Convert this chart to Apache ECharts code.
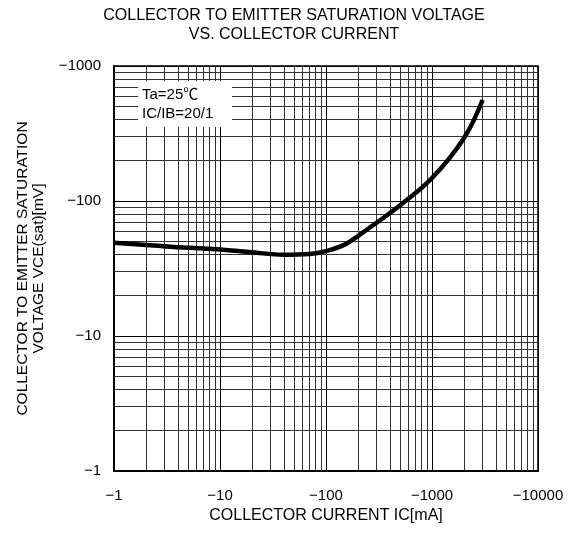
<!DOCTYPE html>
<html>
<head>
<meta charset="utf-8">
<script src="https://cdn.jsdelivr.net/npm/echarts@6/dist/echarts.min.js"></script>
<style>
  html, body { margin: 0; padding: 0; background: #fff; }
  #chart { width: 576px; height: 535px; }
</style>
</head>
<body>
<div id="chart"></div>
<script>
// collector current IC [mA] (magnitude, plotted with a minus sign)
const icValues = [1, 2, 5, 10, 20, 40, 70, 100, 150, 200, 300, 500, 1000, 2000, 3000]
// VCE(sat) [mV] (magnitude)
const vceValues = [49, 47.3, 45, 43.8, 41.7, 40, 40.5, 42.5, 47.5, 55, 69, 93, 148, 292, 560]

const xMajor = [1, 10, 100, 1000, 10000]
const yMajor = [1, 10, 100, 1000]
const minorSteps = [2, 3, 4, 5, 6, 7, 8, 9]

const FONT = "'Liberation Sans', 'Noto Sans CJK JP', sans-serif"

function minorValues(majors) {
  const out = []
  majors.slice(0, -1).forEach(function (m) {
    minorSteps.forEach(function (s) { out.push(m * s) })
  })
  return out
}

const xMinor = minorValues(xMajor)
const yMinor = minorValues(yMajor)

const negLabel = function (v) { return '\u2212' + v }

const option = {
  backgroundColor: '#fff',
  animation: false,
  textStyle: { fontFamily: FONT },
  title: {
    text: 'COLLECTOR TO EMITTER SATURATION VOLTAGE\nVS. COLLECTOR CURRENT',
    left: 289,
    top: 1,
    textAlign: 'center',
    textStyle: {
      fontFamily: FONT,
      fontSize: 16,
      fontWeight: 'normal',
      color: '#000',
      lineHeight: 19
    }
  },
  grid: {
    left: 114,
    top: 66,
    right: 38,
    bottom: 64,
    show: true,
    borderColor: '#000',
    borderWidth: 1.5
  },
  xAxis: {
    type: 'log',
    logBase: 10,
    min: 1,
    max: 10000,
    name: 'COLLECTOR CURRENT IC[mA]',
    nameLocation: 'middle',
    nameGap: 34,
    nameTextStyle: { fontFamily: FONT, fontSize: 16, color: '#000' },
    axisLine: { lineStyle: { color: '#000', width: 2 } },
    axisTick: { show: false },
    axisLabel: {
      formatter: negLabel,
      fontFamily: FONT,
      fontSize: 15,
      color: '#000',
      margin: 17
    },
    splitLine: { show: true, lineStyle: { color: '#000', width: 1 } },
    minorTick: { show: false },
    minorSplitLine: { show: false }
  },
  yAxis: {
    type: 'log',
    logBase: 10,
    min: 1,
    max: 1000,
    name: 'COLLECTOR TO EMITTER SATURATION\nVOLTAGE VCE(sat)[mV]',
    nameLocation: 'middle',
    nameRotate: 90,
    nameGap: 67,
    nameTextStyle: { fontFamily: FONT, fontSize: 15.5, color: '#000', lineHeight: 16, align: 'center' },
    axisLine: { lineStyle: { color: '#000', width: 2 } },
    axisTick: { show: false },
    axisLabel: {
      formatter: negLabel,
      fontFamily: FONT,
      fontSize: 15,
      color: '#000',
      margin: 13
    },
    splitLine: { show: true, lineStyle: { color: '#000', width: 1 } }
  },
  graphic: [{
    type: 'rect',
    left: 138,
    top: 81,
    z: 100,
    shape: { width: 94, height: 46 },
    style: { fill: '#fff' }
  }, {
    type: 'text',
    left: 142,
    top: 85,
    z: 101,
    style: {
      text: 'Ta=25\u2103\nIC/IB=20/1',
      font: "15px 'Liberation Sans', 'Noto Sans CJK JP', sans-serif",
      fill: '#000',
      lineHeight: 19
    }
  }],
  series: [{
    type: 'line',
    name: 'grid',
    data: [],
    silent: true,
    markLine: {
      silent: true,
      symbol: 'none',
      animation: false,
      label: { show: false },
      lineStyle: { color: '#333', width: 1, type: 'solid' },
      emphasis: { disabled: true },
      data: xMinor.map(function (v) { return { xAxis: v } })
        .concat(yMinor.map(function (v) { return { yAxis: v } }))
    }
  }, {
    type: 'line',
    name: 'VCE(sat)',
    smooth: 0.4,
    symbol: 'none',
    z: 10,
    lineStyle: { color: '#000', width: 4.5 },
    data: icValues.map(function (x, i) { return [x, vceValues[i]] })
  }]
}

const chart = echarts.init(document.getElementById('chart'), null, { renderer: 'canvas' })
chart.setOption(option)
</script>
</body>
</html>
